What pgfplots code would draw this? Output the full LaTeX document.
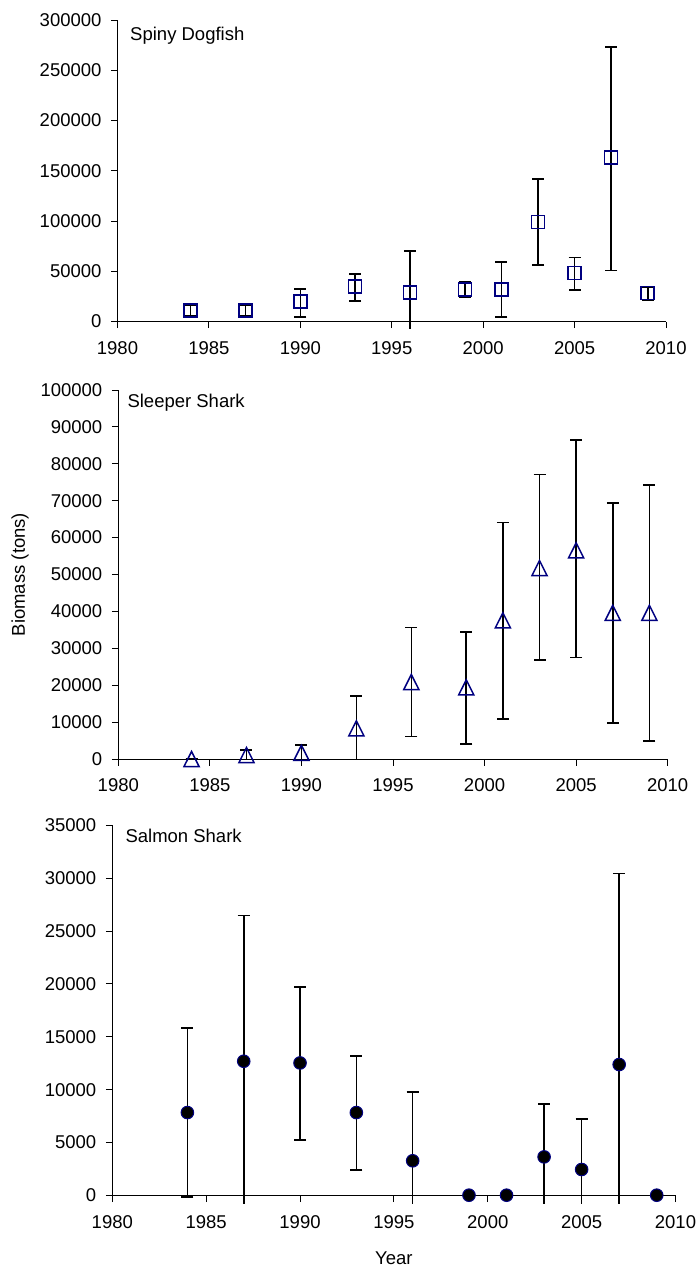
\documentclass[border=0pt]{standalone}
\usepackage{pgfplots}
\pgfplotsset{compat=1.18}
\usepackage{pgfplotstable}
\usepackage{fontspec}
\setmainfont{Liberation Sans}
\definecolor{navy}{RGB}{0,0,128}

% Spiny Dogfish
\pgfplotstableread{
x y ep
1984 11000 4900
1987 11000 4900
1990 19900 12700
1993 34900 12600
1996 28900 41500
1999 31600 8300
2001 31600 27900
2003 99000 42500
2005 48200 15600
2007 163100 110000
2009 28200 6000
}\dogplus
\pgfplotstableread{
x y em
1984 11000 5000
1987 11000 5000
1990 19900 15600
1993 34900 14300
1999 31600 7400
2001 31600 27300
2003 99000 42500
2005 48200 17000
2007 163100 112300
2009 28200 7300
}\dogmincap
\pgfplotstableread{
x y em
1996 28900 36200
}\dogminnocap

% Sleeper Shark
\pgfplotstableread{
x y ep
1984 0 0
1987 1080 1360
1990 1680 2120
1993 8310 8760
1996 20870 14810
1999 19420 15000
2001 37580 26550
2003 51760 25290
2005 56550 29900
2007 39610 29760
2009 39610 34720
}\sleepplus
\pgfplotstableread{
x y em
1984 0 0
1996 20870 14820
1999 19420 15360
2001 37580 26740
2003 51760 24930
2005 56550 29000
2007 39610 29850
2009 39610 34730
}\sleepmincap
\pgfplotstableread{
x y em
1987 1080 1080
1990 1680 3280
1993 8310 8310
}\sleepminnocap

% Salmon Shark
\pgfplotstableread{
x y ep
1984 7840 8000
1987 12690 13790
1990 12530 7180
1993 7840 5320
1996 3280 6480
1999 30 0
2001 30 0
2003 3650 4980
2005 2460 4780
2007 12380 18070
2009 30 0
}\salmplus
\pgfplotstableread{
x y em
1984 7840 7970
1990 12530 7300
1993 7840 5450
1999 30 0
2001 30 0
2009 30 0
}\salmmincap
\pgfplotstableread{
x y em
1987 12690 13446
1996 3280 4036
2003 3650 4406
2005 2460 3216
2007 12380 13136
}\salmminnocap

\newcommand{\lfont}{\fontsize{18.5}{21}\selectfont}

\pgfplotsset{
  panel/.style={
    scale only axis,
    anchor=south west,
    axis lines*=left,
    xmin=1980, xmax=2010,
    xtick={1980,1985,...,2010},
    ymin=0,
    tick align=outside,
    major tick length=6.5pt,
    clip=false,
    axis line style={line width=0.9pt, black},
    every tick/.style={black, line width=0.9pt},
    tick label style={font=\lfont, /pgf/number format/assume math mode=true},
    xticklabel style={/pgf/number format/1000 sep={}, yshift=-10pt},
    yticklabel style={/pgf/number format/1000 sep={}, /pgf/number format/fixed, xshift=-6pt},
    scaled y ticks=false,
  },
  errbase/.style={draw=none, mark=none, forget plot},
  errp/.style={errbase,
    error bars/.cd, y dir=plus, y explicit,
    error bar style={draw=black, line width=1.6pt},
    error mark=-,
    error mark options={draw=black, line width=1.6pt, mark size=6pt, rotate=90}},
  errmc/.style={errbase,
    error bars/.cd, y dir=minus, y explicit,
    error bar style={draw=black, line width=1.6pt},
    error mark=-,
    error mark options={draw=black, line width=1.6pt, mark size=6pt, rotate=90}},
  errmn/.style={errbase,
    error bars/.cd, y dir=minus, y explicit,
    error bar style={draw=black, line width=1.6pt},
    error mark=none},
}

\begin{document}
\begin{tikzpicture}
\useasboundingbox (0,0) rectangle (697pt,-1266pt);

% Panel 1
\begin{axis}[panel, at={(117.5pt,-321.5pt)}, width=548.5pt, height=301.5pt,
  ymax=300000, ytick={0,50000,...,300000}]
\addplot[errp] table[x=x, y=y, y error=ep] {\dogplus};
\addplot[errmc] table[x=x, y=y, y error=em] {\dogmincap};
\addplot[errmn] table[x=x, y=y, y error=em] {\dogminnocap};
\addplot[only marks, mark=square, mark size=6.5pt,
  mark options={draw=navy, line width=1.5pt, fill=none}] table[x=x, y=y] {\dogplus};
\node[anchor=base west, font=\lfont, xshift=9.2pt, yshift=-20pt] at (axis description cs:0,1) {Spiny Dogfish};
\end{axis}

% Panel 2
\begin{axis}[panel, at={(118.3pt,-759pt)}, width=549.4pt, height=369pt,
  ymax=100000, ytick={0,10000,...,100000},
  ylabel={Biomass (tons)},
  ylabel style={at={(axis description cs:0,0.5)}, anchor=center, yshift=98.3pt, font=\lfont}]
\addplot[errp] table[x=x, y=y, y error=ep] {\sleepplus};
\addplot[errmc] table[x=x, y=y, y error=em] {\sleepmincap};
\addplot[errmn] table[x=x, y=y, y error=em] {\sleepminnocap};
\addplot[only marks, mark=triangle, mark size=8.7pt,
  mark options={draw=navy, line width=1.5pt, fill=none, yshift=-2.5pt, yscale=1.15}] table[x=x, y=y] {\sleepplus};
\node[anchor=base west, font=\lfont, xshift=5.7pt, yshift=-17.7pt] at (axis description cs:0,1) {Sleeper Shark};
\end{axis}

% Panel 3
\begin{axis}[panel, at={(112.3pt,-1195.5pt)}, width=563.2pt, height=370.3pt,
  ymax=35000, ytick={0,5000,...,35000},
  xlabel={Year},
  xlabel style={at={(axis description cs:0.5,0)}, anchor=base, yshift=-68.5pt, font=\lfont}]
\addplot[errp] table[x=x, y=y, y error=ep] {\salmplus};
\addplot[errmc] table[x=x, y=y, y error=em] {\salmmincap};
\addplot[errmn] table[x=x, y=y, y error=em] {\salmminnocap};
\addplot[only marks, mark=*, mark size=6.3pt,
  mark options={draw=navy, line width=1pt, fill=black}] table[x=x, y=y] {\salmplus};
\node[anchor=base west, font=\lfont, xshift=9.7pt, yshift=-17.5pt] at (axis description cs:0,1) {Salmon Shark};
\end{axis}
\end{tikzpicture}
\end{document}
